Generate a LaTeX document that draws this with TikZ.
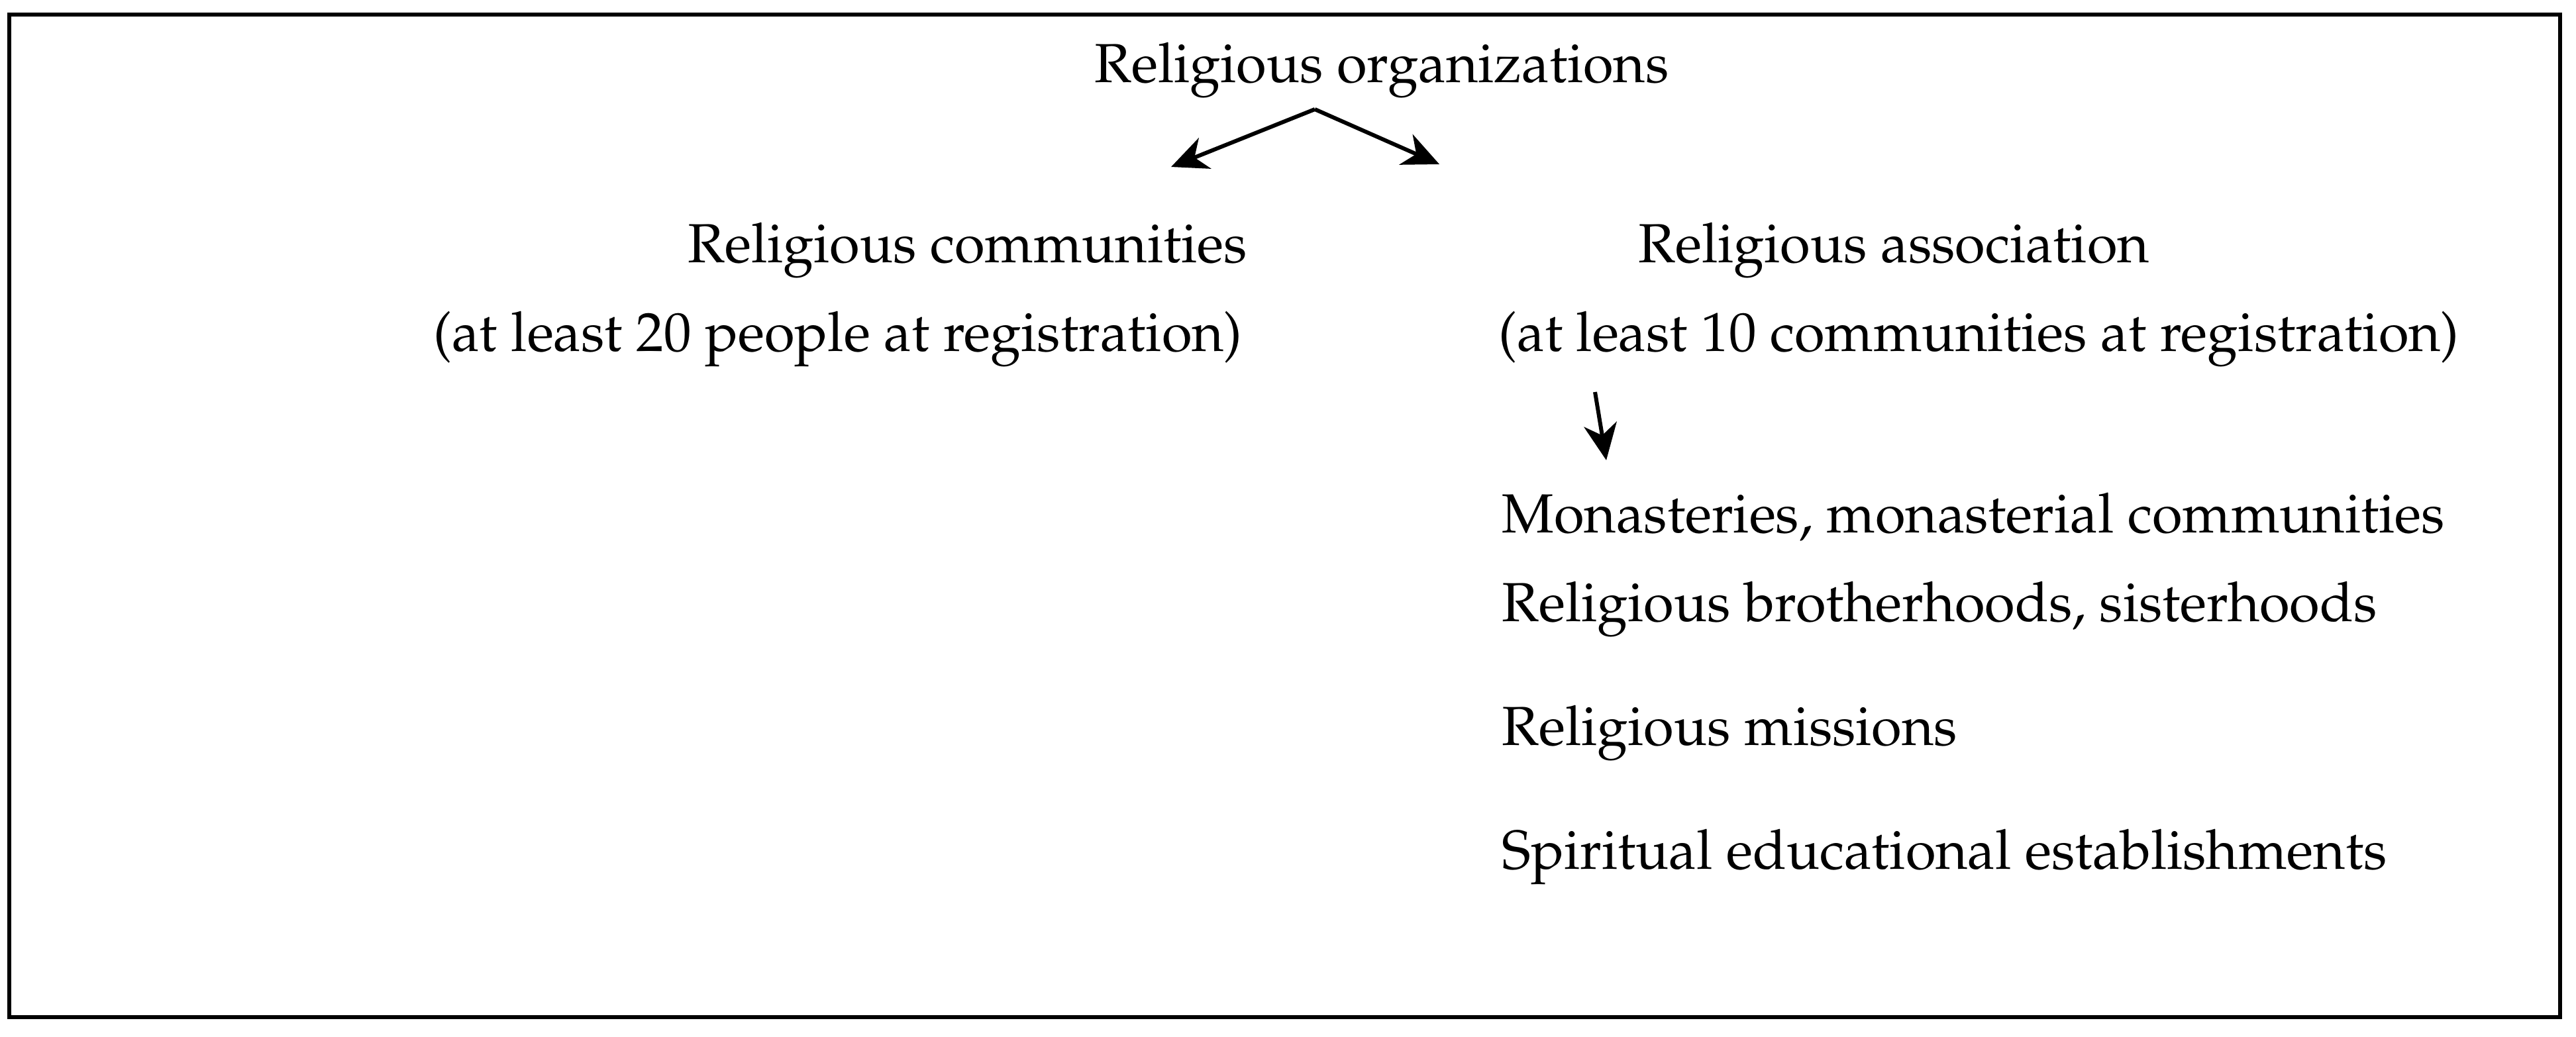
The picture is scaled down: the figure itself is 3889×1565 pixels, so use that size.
\documentclass[tikz,border=0pt]{standalone}
\usepackage[T1]{fontenc}
\usepackage{mathpazo}
\usetikzlibrary{arrows.meta}
\begin{document}
\begin{tikzpicture}[x=0.01cm,y=-0.01cm]
        \tikzstyle{every node}=[font=\fontsize{23.65}{28}\selectfont,inner sep=0pt]
        \tikzstyle{entry}=[anchor=base west]
        \tikzstyle{link}=[line width=0.06cm,-{Stealth[length=0.55cm,width=0.5cm,inset=0.17cm]}]
        \useasboundingbox (0,0) rectangle (3889,1565);
        \draw[line width=0.055cm] (14,22) rectangle (3865,1536);

        \node[entry] (organizations) at (1652,124) {Religious organizations};
        \node[entry] (communities) at (1038,396) {Religious communities};
        \node[entry] (communitiesreq) at (654,530) {(at least 20 people at registration)};
        \node[entry] (association) at (2473,396) {Religious association};
        \node[entry] (associationreq) at (2262,530) {(at least 10 communities at registration)};

        \node[entry] (monasteries) at (2267,804) {Monasteries, monasterial communities};
        \node[entry] (brotherhoods) at (2267,938) {Religious brotherhoods, sisterhoods};
        \node[entry] (missions) at (2267,1125) {Religious missions};
        \node[entry] (schools) at (2267,1312) {Spiritual educational establishments};

        \coordinate (fork) at (1985,165);
        \coordinate (communitiestip) at (1768,252);
        \coordinate (associationtip) at (2173,248);
        \coordinate (subtail) at (2408,592);
        \coordinate (subtip) at (2425,695);

        \draw[link] (fork) -- (communitiestip);
        \draw[link] (fork) -- (associationtip);
        \draw[link] (subtail) -- (subtip);
\end{tikzpicture}
\end{document}
